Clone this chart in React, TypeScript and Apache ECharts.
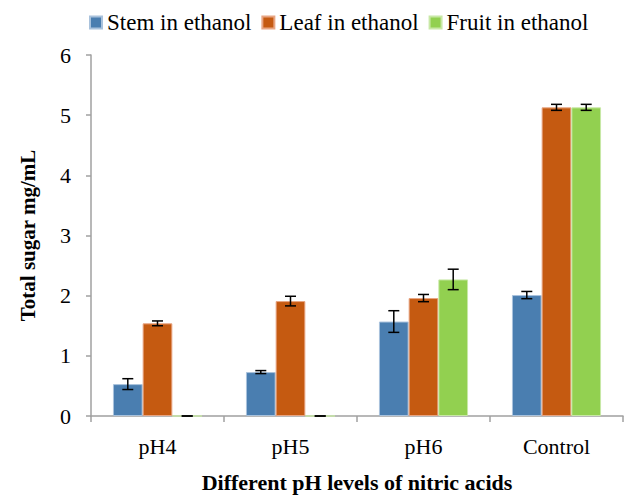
import React, { useEffect, useRef } from "react";
import * as echarts from "echarts";

const categories = ["pH4", "pH5", "pH6", "Control"];
const seriesNames = ["Stem in ethanol", "Leaf in ethanol", "Fruit in ethanol"];
const stemValues = [0.53, 0.73, 1.57, 2.01];
const leafValues = [1.54, 1.91, 1.96, 5.13];
const fruitValues = [0, 0, 2.27, 5.13];
const stemErrors = [0.09, 0.025, 0.18, 0.06];
const leafErrors = [0.04, 0.08, 0.06, 0.05];
const fruitErrors = [0, 0, 0.17, 0.05];
const yTicks = [0, 1, 2, 3, 4, 5, 6];

const colors = ["#4a7eb0", "#c55a11", "#92d050"];
const borderColors = ["#a9c2dc", "#e8a583", "#c8e8a6"];
const FONT = "'Liberation Serif', serif";

export default function App() {
  const ref = useRef<HTMLDivElement>(null);
  useEffect(() => {
    if (!ref.current) return;
    const chart = echarts.init(ref.current, undefined, { renderer: "svg" });
    const values = [stemValues, leafValues, fruitValues];
    const errors = [stemErrors, leafErrors, fruitErrors];
    const gapRatio = 0.33;

    const barSeries = seriesNames.map((name, i) => ({
      name,
      type: "bar",
      data: values[i],
      barGap: "0%",
      barCategoryGap: "33%",
      itemStyle: { color: colors[i], borderColor: borderColors[i], borderWidth: 1 },
      z: 2,
    }));

    const errSeries = seriesNames.map((name, i) => ({
      name: name + " error",
      type: "custom",
      z: 5,
      data: categories.map((c, j) => [j, values[i][j], errors[i][j]]),
      renderItem: (params: any, api: any) => {
        const idx = api.value(0);
        const v = api.value(1);
        const e = api.value(2);
        const band = api.size([1, 0])[0];
        const barW = (band * (1 - gapRatio)) / 3;
        const center = api.coord([idx, v]);
        const x = center[0] + (i - 1) * barW;
        const top = api.coord([idx, v + e])[1];
        const bot = api.coord([idx, v - e])[1];
        const cap = 5.5;
        const style = { stroke: "#000", lineWidth: 1.5 };
        return {
          type: "group",
          children: [
            { type: "line", shape: { x1: x, y1: top, x2: x, y2: bot }, style },
            { type: "line", shape: { x1: x - cap, y1: top, x2: x + cap, y2: top }, style },
            { type: "line", shape: { x1: x - cap, y1: bot, x2: x + cap, y2: bot }, style },
          ],
        };
      },
    }));

    chart.setOption({
      animation: false,
      backgroundColor: "#ffffff",
      textStyle: { fontFamily: FONT },
      legend: {
        data: seriesNames,
        left: 84,
        top: 6,
        itemWidth: 12,
        itemHeight: 12,
        itemGap: 10,
        icon: "rect",
        textStyle: { fontFamily: FONT, fontSize: 23, color: "#000" },
      },
      grid: { left: 91, right: 8, top: 55, bottom: 85, outerBoundsMode: "none", containLabel: false },
      xAxis: {
        type: "category",
        data: categories,
        axisLine: { lineStyle: { color: "#a0a0a0", width: 1.5 } },
        axisTick: { show: true, length: 6, lineStyle: { color: "#a0a0a0", width: 1.5 } },
        axisLabel: { fontFamily: FONT, fontSize: 22, color: "#000", margin: 19 },
        name: "Different pH levels of nitric acids",
        nameLocation: "middle",
        nameGap: 55,
        nameTextStyle: { fontFamily: FONT, fontSize: 22, fontWeight: "bold", color: "#000" },
      },
      yAxis: {
        type: "value",
        min: 0,
        max: 6,
        interval: 1,
        axisLine: { show: true, lineStyle: { color: "#a0a0a0", width: 1.5 } },
        axisTick: { show: true, length: 5, lineStyle: { color: "#a0a0a0", width: 1.5 } },
        splitLine: { show: false },
        axisLabel: {
          fontFamily: FONT,
          fontSize: 22,
          color: "#000",
          margin: 20,
          formatter: (v: number) => (yTicks.includes(v) ? String(v) : ""),
        },
        name: "Total sugar mg/mL",
        nameLocation: "middle",
        nameGap: 53,
        nameRotate: 90,
        nameTextStyle: { fontFamily: FONT, fontSize: 21, fontWeight: "bold", color: "#000" },
      },
      series: [...barSeries, ...errSeries],
    });
    return () => chart.dispose();
  }, []);
  return <div ref={ref} style={{ width: 631, height: 501, position: "absolute", left: 0, top: 0 }} />;
}
